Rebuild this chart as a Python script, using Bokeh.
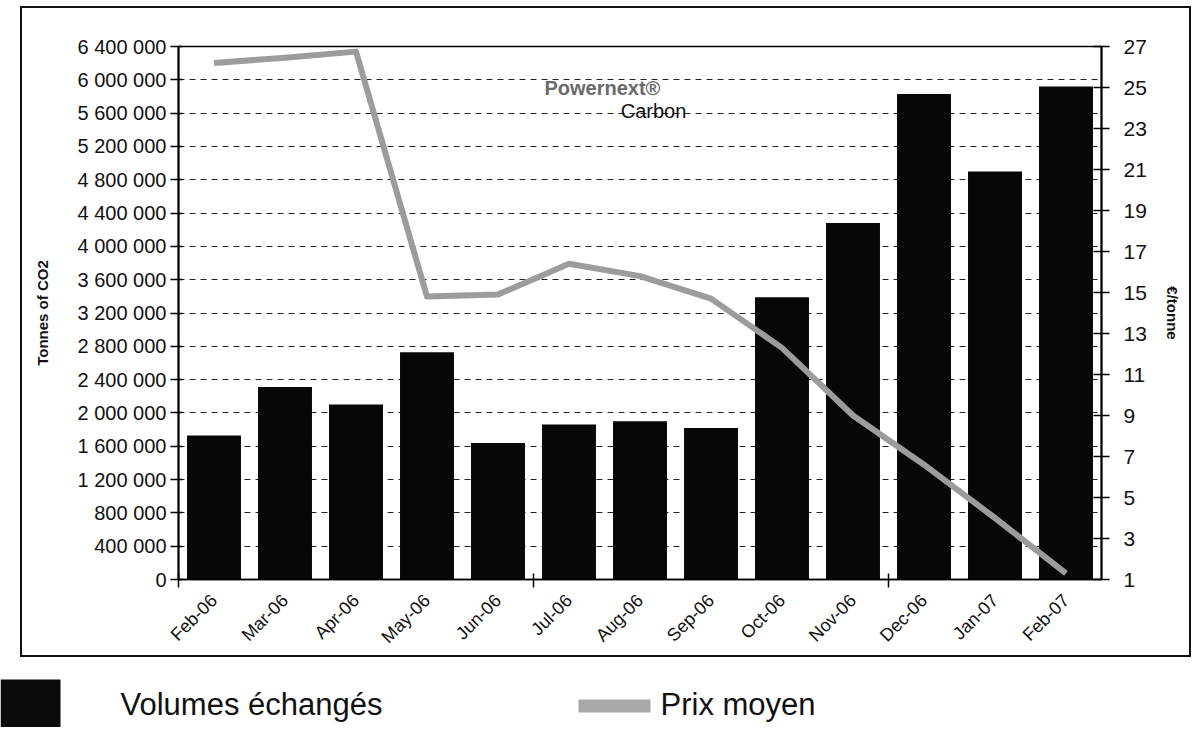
import math
from bokeh.plotting import figure
from bokeh.models import Range1d, LinearAxis, FixedTicker, ColumnDataSource, Spacer
from bokeh.layouts import column, row
from bokeh.core.properties import value
from bokeh.embed import file_html
from bokeh.resources import INLINE

# ---------------- data ----------------
months = ["Feb-06", "Mar-06", "Apr-06", "May-06", "Jun-06", "Jul-06", "Aug-06",
          "Sep-06", "Oct-06", "Nov-06", "Dec-06", "Jan-07", "Feb-07"]
volumes = [1730000, 2310000, 2100000, 2730000, 1640000, 1860000, 1900000,
           1820000, 3390000, 4280000, 5830000, 4900000, 5920000]
prices = [26.2, 26.45, 26.75, 14.8, 14.9, 16.4, 15.8, 14.7, 12.3, 9.0, 6.6, 4.0, 1.3]
vol_ticks = list(range(0, 6400001, 400000))
vol_tick_labels = [f"{v:,}".replace(",", " ") for v in vol_ticks]
price_ticks = list(range(1, 28, 2))
legend_labels = ["Volumes échangés", "Prix moyen"]
logo_lines = ["Powernext®", "Carbon"]
y_label_left = "Tonnes of CO2"
y_label_right = "€/tonne"

FONT = "Liberation Sans"
xc = [i + 0.5 for i in range(len(months))]
src = ColumnDataSource(dict(x=xc, vol=volumes, price=prices, month=months))

# ---------------- main chart ----------------
p = figure(width=1171, height=651, x_range=Range1d(0, len(months)),
           y_range=Range1d(0, vol_ticks[-1]),
           output_backend="svg", toolbar_location=None,
           min_border_left=156, min_border_right=92,
           min_border_top=38, min_border_bottom=80)
p.extra_y_ranges = {"price": Range1d(1, 27)}
p.background_fill_color = "white"
p.border_fill_color = "white"
p.outline_line_color = "black"
p.outline_line_width = 1.5
p.styles = {"border": "2px solid #111"}

p.vbar(x="x", top="vol", bottom=0, width=0.76, source=src,
       fill_color="#070707", line_color=None)
p.line(x="x", y="price", y_range_name="price", source=src,
       line_color="#9c9c9c", line_width=6, line_join="round")

# left axis
ya = p.yaxis[0]
ya.ticker = FixedTicker(ticks=vol_ticks)
ya.major_label_overrides = {v: s for v, s in zip(vol_ticks, vol_tick_labels)}
ya.axis_label = y_label_left
ya.axis_line_width = 2
ya.axis_line_color = "black"
ya.major_tick_in = 4
ya.major_tick_out = 8
ya.major_tick_line_width = 1.5
ya.minor_tick_line_color = None
ya.major_label_text_font = FONT
ya.major_label_text_font_size = "20px"
ya.major_label_text_color = "#111"
ya.major_label_standoff = 4
ya.axis_label_text_font = FONT
ya.axis_label_text_font_size = "15px"
ya.axis_label_text_font_style = "bold"
ya.axis_label_text_color = "#111"
ya.axis_label_standoff = 24

# right axis
ra = LinearAxis(y_range_name="price", ticker=FixedTicker(ticks=price_ticks),
                axis_label=y_label_right)
ra.axis_line_width = 2
ra.axis_line_color = "black"
ra.major_tick_in = 8
ra.major_tick_out = 8
ra.major_tick_line_width = 1.5
ra.minor_tick_line_color = None
ra.major_label_text_font = FONT
ra.major_label_text_font_size = "21px"
ra.major_label_text_color = "#111"
ra.major_label_standoff = 14
ra.axis_label_text_font = FONT
ra.axis_label_text_font_size = "15px"
ra.axis_label_text_font_style = "bold"
ra.axis_label_text_color = "#111"
ra.axis_label_standoff = 14
p.add_layout(ra, "right")

# x axis
xa = p.xaxis[0]
xa.ticker = FixedTicker(ticks=xc, minor_ticks=[0, 5, 10])
xa.major_label_overrides = {x: m for x, m in zip(xc, months)}
xa.major_tick_line_color = None
xa.minor_tick_in = 6
xa.minor_tick_out = 8
xa.minor_tick_line_width = 1.5
xa.minor_tick_line_color = "black"
xa.axis_line_width = 1.5
xa.axis_line_color = "black"
xa.major_label_orientation = math.pi / 4
xa.major_label_text_font = FONT
xa.major_label_text_font_size = "18px"
xa.major_label_text_color = "#111"
xa.major_label_standoff = 10

p.xgrid.visible = False
p.ygrid.grid_line_color = "#222"
p.ygrid.grid_line_dash = "6 5"
p.ygrid.grid_line_width = 1

# logo text
p.text(x=[5.97], y=[5896000], text=[logo_lines[0]], text_align="center",
       text_baseline="middle", text_font=value(FONT), text_font_size="20px",
       text_font_style="bold", text_color="#6a6a6a")
p.text(x=[6.69], y=[5630000], text=[logo_lines[1]], text_align="center",
       text_baseline="middle", text_font=value(FONT), text_font_size="20px",
       text_color="#111")

# ---------------- legend strip ----------------
LW, LH = 1190, 70
lp = figure(width=LW, height=LH, x_range=Range1d(0, LW), y_range=Range1d(LH, 0),
            output_backend="svg", toolbar_location=None, min_border=0,
            x_axis_location=None, y_axis_location=None)
lp.grid.visible = False
lp.outline_line_color = None
lp.background_fill_color = "white"
lp.border_fill_color = "white"
lp.quad(left=[0], right=[60], top=[22], bottom=[LH], fill_color="#0b0b0b", line_color=None)
lp.quad(left=[578], right=[650], top=[42], bottom=[55], fill_color="#a8a8a8", line_color=None)
lp.text(x=[120, 660], y=[47, 47], text=legend_labels, text_align="left",
        text_baseline="middle", text_font=value(FONT), text_font_size="31px",
        text_color="#111")

layout = column(Spacer(width=10, height=6), row(Spacer(width=20, height=651), p), lp)
open("out.html", "w").write(file_html(layout, INLINE))
